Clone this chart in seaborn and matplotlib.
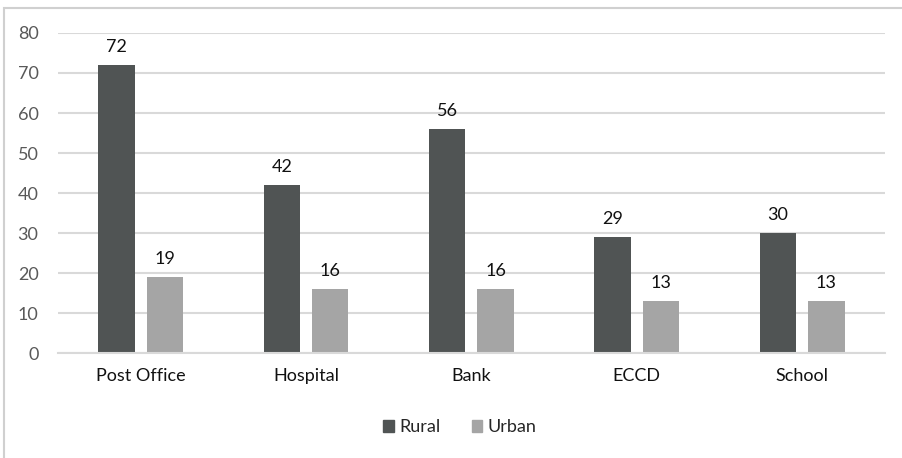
import matplotlib
matplotlib.use("Agg")
import matplotlib.pyplot as plt
import matplotlib.patches as mpatches
import seaborn as sns
import pandas as pd

categories = ["Post Office", "Hospital", "Bank", "ECCD", "School"]
rural = [72, 42, 56, 29, 30]
urban = [19, 16, 16, 13, 13]
series_names = ["Rural", "Urban"]
y_ticks = [0, 10, 20, 30, 40, 50, 60, 70, 80]

df = pd.DataFrame({
    "Facility": categories * 2,
    "Value": rural + urban,
    "Area": [series_names[0]] * len(categories) + [series_names[1]] * len(categories),
})

sns.set_theme(style="white")
plt.rcParams["font.family"] = ["Lato", "DejaVu Sans"]

fig = plt.figure(figsize=(9.02, 4.58), dpi=100)
ax = fig.add_axes([0.0643, 0.229, 0.9167, 0.699])

palette = {"Rural": "#505454", "Urban": "#a5a5a5"}
sns.barplot(data=df, x="Facility", y="Value", hue="Area", palette=palette,
            width=0.585, gap=0.25, ax=ax, saturation=1, legend=False,
            linewidth=0, errorbar=None)

ax.set_ylim(0, 80)
ax.set_xlim(-0.5, len(categories) - 0.5)
ax.set_yticks(y_ticks)
ax.yaxis.grid(True, color="#d9d9d9", linewidth=1.5)
ax.set_axisbelow(True)
for side in ["top", "right", "left"]:
    ax.spines[side].set_visible(False)
ax.spines["bottom"].set_color("#d9d9d9")
ax.spines["bottom"].set_linewidth(1.5)
ax.tick_params(axis="both", length=0)
ax.tick_params(axis="y", labelsize=13, labelcolor="#595959", pad=14)
ax.tick_params(axis="x", labelsize=13, labelcolor="#111111", pad=11)
ax.set_xlabel("")
ax.set_ylabel("")

for container in ax.containers:
    ax.bar_label(container, fmt="%d", padding=7.5, fontsize=13, color="#111111")

handles = [mpatches.Patch(color=palette[n], label=n) for n in series_names]
fig.legend(handles=handles, loc="center", bbox_to_anchor=(0.51, 0.067), ncol=2,
           frameon=False, fontsize=13, handlelength=0.6, handleheight=0.6,
           handletextpad=0.3, columnspacing=1.7)

# outer chart frame
frame = mpatches.Rectangle((4 / 902, -0.1), 1.2, 1 - 8 / 458 + 0.1,
                           transform=fig.transFigure, fill=False,
                           edgecolor="#d0d0d0", linewidth=1.5)
fig.patches.append(frame)

fig.savefig("out.png", dpi=100)
